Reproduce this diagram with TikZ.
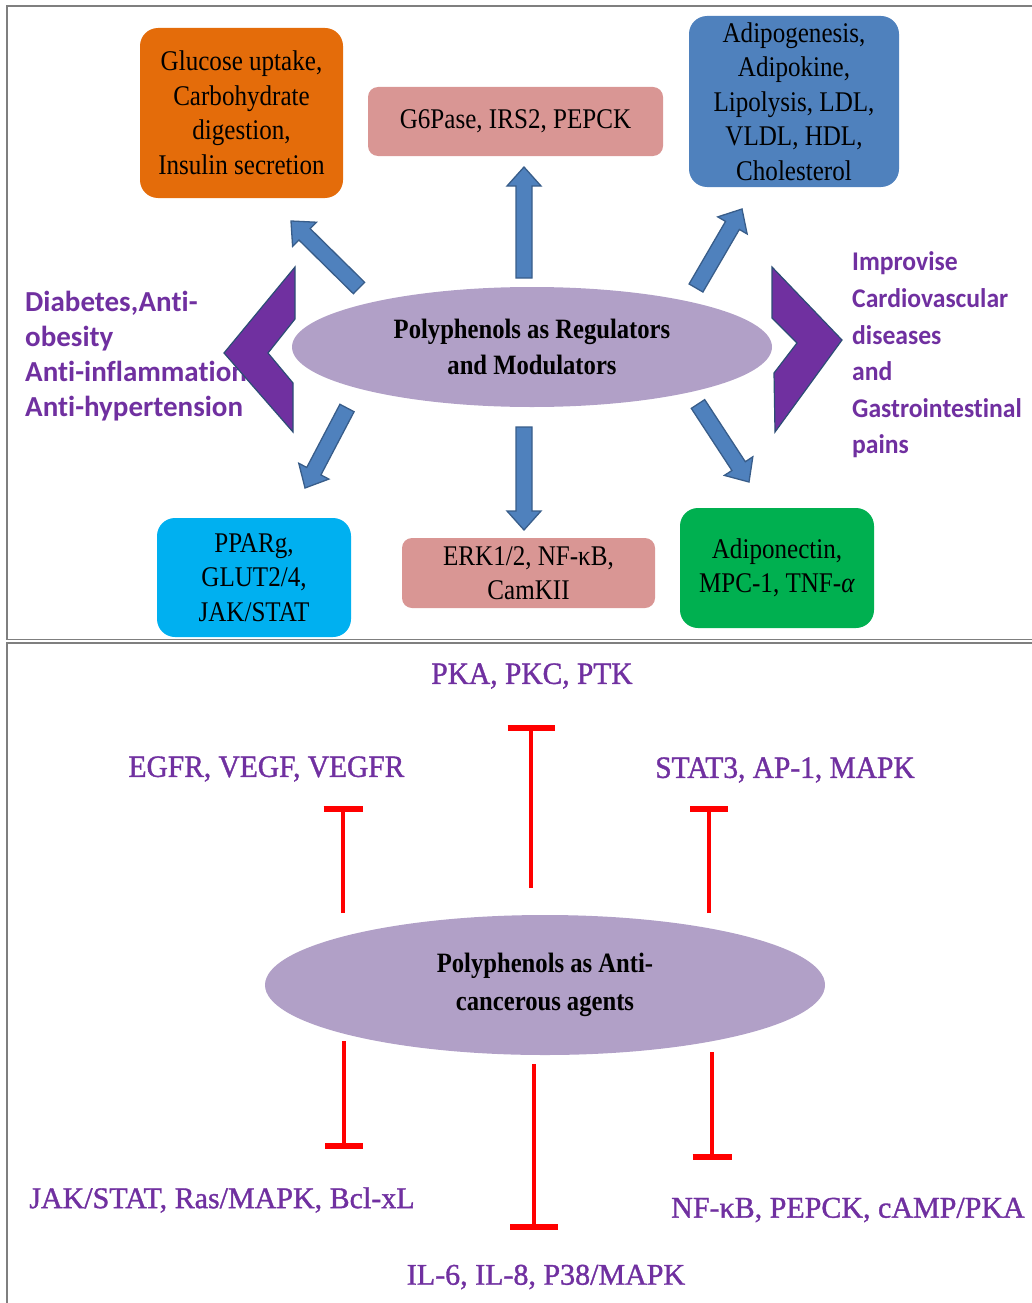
\documentclass[tikz,border=0pt]{standalone}
\usepackage{fontspec}
\usetikzlibrary{shapes.geometric,calc}
\newfontfamily\tms[FakeStretch=0.88]{Liberation Serif}
\newfontfamily\tmsw[FakeStretch=0.95,FakeBold=1.2]{Liberation Serif}
\newfontfamily\tmsn[FakeBold=1.2]{Liberation Serif}
\newfontfamily\calb[Ligatures=NoCommon]{Carlito}
\newfontfamily\calr[FakeStretch=0.95,Ligatures=NoCommon]{Carlito}
\definecolor{corange}{HTML}{E46C0A}
\definecolor{cpink}{HTML}{D99694}
\definecolor{cblue}{HTML}{4F81BD}
\definecolor{cblueb}{HTML}{385D8A}
\definecolor{ccyan}{HTML}{00B0F0}
\definecolor{cgreen}{HTML}{00B050}
\definecolor{cell}{HTML}{B1A0C7}
\definecolor{cpurp}{HTML}{7030A0}
\definecolor{cchevb}{HTML}{2C4D75}
\definecolor{cframe}{HTML}{7F7F7F}
\newcommand\blockarrow[2]{%
  \coordinate (#1hb) at ($(#2)!19pt!(#1)$);
  \filldraw[barrow] ($(#1)!8pt!90:(#2)$) -- ($(#1hb)!8pt!90:(#2)$) -- ($(#1hb)!17pt!90:(#2)$) -- (#2)
    -- ($(#1hb)!17pt!-90:(#2)$) -- ($(#1hb)!8pt!-90:(#2)$) -- ($(#1)!8pt!-90:(#2)$) -- cycle;}
\newcommand\tbar[3]{%
  \draw[tline] (#1) -- (#2);
  \draw[tcap] ([xshift=-#3]#2) -- ([xshift=#3]#2);}
\tikzset{
  boxnode/.style={rounded corners=18pt, align=center, inner sep=0pt, text=black,
    font=\tms\fontsize{28.5}{34.5}\selectfont},
  ellnode/.style={ellipse, fill=cell, inner sep=0pt, align=center,
    font=\tms\bfseries\fontsize{28}{36}\selectfont},
  sidetext/.style={align=left, anchor=west, text=cpurp, inner sep=0pt,
    font=\calb\bfseries\fontsize{29}{35}\selectfont},
  toplabel/.style={text=cpurp, inner sep=0pt, font=\tmsw\fontsize{31}{36}\selectfont},
  botlabel/.style={text=cpurp, inner sep=0pt, font=\tmsn\fontsize{30}{36}\selectfont},
  barrow/.style={fill=cblue, draw=cblueb, line width=1.3pt, line join=miter},
  chevron/.style={fill=cpurp, draw=cchevb, line width=1.2pt},
  tline/.style={draw=red, line width=4pt},
  tcap/.style={draw=red, line width=6pt},
  frame/.style={draw=cframe, line width=1.6pt}
}
\begin{document}
\begin{tikzpicture}[x=1pt,y=-1pt]
\useasboundingbox (0,0) rectangle (1031,1303);
% frames
\draw[frame] (1040,6) -- (7,6) -- (7,639.5) -- (1040,639.5);
\draw[frame] (1040,643) -- (7,643) -- (7,1310);

% ---------- top panel ----------
\node[boxnode, fill=corange, minimum width=203pt, minimum height=170pt] (glu) at (241.5,113)
  {Glucose uptake,\\Carbohydrate\\digestion,\\Insulin secretion};
\node[boxnode, fill=cpink, rounded corners=10pt, minimum width=295pt, minimum height=69pt] (g6p) at (515.5,121.5)
  {G6Pase, IRS2, PEPCK};
\node[boxnode, fill=cblue, minimum width=210pt, minimum height=171pt] (adi) at (794,101.5)
  {Adipogenesis,\\Adipokine,\\Lipolysis, LDL,\\VLDL, HDL,\\Cholesterol};
\node[boxnode, fill=ccyan, minimum width=194pt, minimum height=119pt] (ppar) at (254,577.5)
  {PPARg,\\GLUT2/4,\\JAK/STAT};
\node[boxnode, fill=cpink, rounded corners=10pt, minimum width=253pt, minimum height=70pt] (erk) at (528.5,573)
  {ERK1/2, NF-κB,\\CamKII};
\node[boxnode, fill=cgreen, minimum width=194pt, minimum height=120pt] (adn) at (777,568)
  {Adiponectin,\\MPC-1, TNF-\textit{α}};

\node[ellnode, minimum width=480pt, minimum height=120pt] (reg) at (532,347)
  {Polyphenols as Regulators\\and Modulators};

\node[sidetext] (left) at (25,356) {Diabetes,Anti-\\obesity\\Anti-inflammation\\Anti-hypertension};
\node[sidetext, font=\calr\bfseries\fontsize{27}{36.6}\selectfont] (right) at (852,355)
  {Improvise\\Cardiovascular\\diseases\\and\\Gastrointestinal\\pains};

% chevrons
\filldraw[chevron] (295,267) -- (224,353) -- (293,432) -- (293,383) -- (268,353) -- (295,319) -- cycle;
\filldraw[chevron] (772,267) -- (842,340) -- (775,432) -- (774,373) -- (797,343) -- (772,318) -- cycle;

% block arrows
\coordinate (t1) at (359,288); \coordinate (h1) at (291,221);
\coordinate (t2) at (524,278); \coordinate (h2) at (524,167);
\coordinate (t3) at (696,288); \coordinate (h3) at (742,209);
\coordinate (t4) at (347,408); \coordinate (h4) at (305,488);
\coordinate (t5) at (524,427); \coordinate (h5) at (524,530);
\coordinate (t6) at (698,404); \coordinate (h6) at (749,482);
\blockarrow{t1}{h1}
\blockarrow{t2}{h2}
\blockarrow{t3}{h3}
\blockarrow{t4}{h4}
\blockarrow{t5}{h5}
\blockarrow{t6}{h6}

% ---------- bottom panel ----------
\node[ellnode, minimum width=560pt, minimum height=140pt, font=\tms\bfseries\fontsize{28}{38}\selectfont] (anti) at (545,985)
  {Polyphenols as Anti-\\cancerous agents};

\node[toplabel] (pka) at (532,676) {PKA, PKC, PTK};
\node[toplabel] (egfr) at (266.5,769) {EGFR, VEGF, VEGFR};
\node[toplabel] (stat) at (785,770) {STAT3, AP-1, MAPK};
\node[botlabel] (jak) at (222,1200) {JAK/STAT, Ras/MAPK, Bcl-xL};
\node[botlabel] (nfkb) at (848,1210) {NF-κB, PEPCK, cAMP/PKA};
\node[botlabel] (il6) at (546,1277) {IL-6, IL-8, P38/MAPK};

\coordinate (s1) at (343,913);  \coordinate (e1) at (343,809);
\coordinate (s2) at (531,888);  \coordinate (e2) at (531,728);
\coordinate (s3) at (709,913);  \coordinate (e3) at (709,809);
\coordinate (s4) at (344,1041); \coordinate (e4) at (344,1146);
\coordinate (s5) at (534,1064); \coordinate (e5) at (534,1227);
\coordinate (s6) at (712,1052); \coordinate (e6) at (712,1157);
\tbar{s1}{e1}{19.5pt}
\tbar{s2}{e2}{23.5pt}
\tbar{s3}{e3}{19pt}
\tbar{s4}{e4}{19pt}
\tbar{s5}{e5}{24pt}
\tbar{s6}{e6}{19.5pt}
\end{tikzpicture}
\end{document}
